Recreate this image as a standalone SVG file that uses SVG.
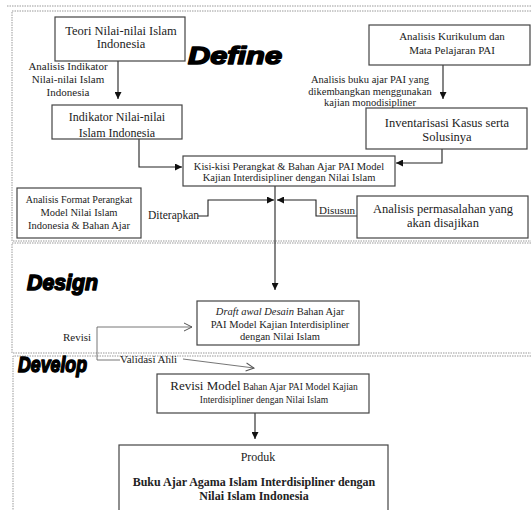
<svg xmlns="http://www.w3.org/2000/svg" width="531" height="510" viewBox="0 0 531 510">
<style>
.t{font-family:"Liberation Serif","Times New Roman",serif;fill:#222;}
.box{fill:#fff;stroke:#444;stroke-width:1.2;}
.sec{fill:none;stroke:#999;stroke-width:1;stroke-dasharray:1.5,1;}
.con{fill:none;stroke:#222;stroke-width:1.1;}
.rev{fill:none;stroke:#666;stroke-width:0.9;}
.h{font-family:"Liberation Sans",Arial,sans-serif;font-weight:bold;font-style:italic;fill:#000;stroke:#000;stroke-width:1.5;stroke-linejoin:round;}
</style>
<defs>
<marker id="fa" markerUnits="userSpaceOnUse" markerWidth="7" markerHeight="7" refX="7" refY="3.5" orient="auto"><path d="M0,0 L7,3.5 L0,7 z" fill="#111"/></marker>
<marker id="oa" markerUnits="userSpaceOnUse" markerWidth="10" markerHeight="10" refX="9" refY="5" orient="auto"><path d="M1,1 L9,5 L1,9" fill="none" stroke="#555" stroke-width="1"/></marker>
</defs>
<rect width="531" height="510" fill="#fff"/>
<g id="sections">
<path class="sec" d="M7,6 H531"/>
<path class="sec" d="M531,11 H12 V241 H531"/>
<path class="sec" d="M531,243 H12 V353 H531"/>
<path class="sec" d="M531,356 H13 V510"/>
<text class="h" x="188" y="64" font-size="24" textLength="94" lengthAdjust="spacingAndGlyphs">Define</text>
<text class="h" x="27" y="290" font-size="22" textLength="71" lengthAdjust="spacingAndGlyphs">Design</text>
<text class="h" x="18" y="372" font-size="22" textLength="69" lengthAdjust="spacingAndGlyphs">Develop</text>
</g>
<g id="connectors">
<path class="con" d="M118,61 V99" marker-end="url(#fa)"/>
<path class="con" d="M443,65 V99" marker-end="url(#fa)"/>
<path class="con" d="M139,139 V167 H182" marker-end="url(#fa)"/>
<path class="con" d="M487,146 H442 V163 H396" marker-end="url(#fa)"/>
<path class="con" d="M198,216 H208 V200 H274" marker-end="url(#fa)"/>
<path class="con" d="M357,216 H316 V200 H277" marker-end="url(#fa)"/>
<path class="con" d="M275,186 V290" marker-end="url(#fa)"/>
<path class="con" d="M255,413 V439" marker-end="url(#fa)"/>
<path class="rev" d="M97,360 V327 H192" marker-end="url(#oa)"/>
<path class="rev" d="M97,360 H120"/>
<path class="rev" d="M183,359 L254,368" marker-end="url(#oa)"/>
<text class="t" x="68" y="70" font-size="11" text-anchor="middle">Analisis Indikator</text>
<text class="t" x="68" y="83" font-size="11" text-anchor="middle">Nilai-nilai Islam</text>
<text class="t" x="68" y="96" font-size="11" text-anchor="middle">Indonesia</text>
<text class="t" x="370" y="83" font-size="10.5" text-anchor="middle">Analisis buku ajar PAI yang</text>
<text class="t" x="370" y="95" font-size="10.5" text-anchor="middle">dikembangkan menggunakan</text>
<text class="t" x="370" y="106" font-size="10.5" text-anchor="middle">kajian monodisipliner</text>
<text class="t" x="148" y="219" font-size="11.5">Diterapkan</text>
<text class="t" x="319" y="214" font-size="11">Disusun</text>
<text class="t" x="63" y="341" font-size="11">Revisi</text>
<text class="t" x="120" y="363" font-size="11">Validasi Ahli</text>
</g>
<g id="teori">
<rect class="box" x="55" y="17" width="130" height="44"/>
<text class="t" x="121" y="35" font-size="12.5" text-anchor="middle">Teori Nilai-nilai Islam</text>
<text class="t" x="121" y="48" font-size="12.5" text-anchor="middle">Indonesia</text>
</g>
<g id="kurikulum">
<rect class="box" x="369" y="25" width="161" height="40"/>
<text class="t" x="452" y="40" font-size="11" text-anchor="middle">Analisis Kurikulum dan</text>
<text class="t" x="452" y="54" font-size="11" text-anchor="middle">Mata Pelajaran PAI</text>
</g>
<g id="indikator">
<rect class="box" x="52" y="105" width="130" height="34"/>
<text class="t" x="117" y="121" font-size="12" text-anchor="middle">Indikator Nilai-nilai</text>
<text class="t" x="117" y="137" font-size="12" text-anchor="middle">Islam Indonesia</text>
</g>
<g id="inventarisasi">
<rect class="box" x="366" y="108" width="161" height="41"/>
<text class="t" x="447" y="127" font-size="12.5" text-anchor="middle">Inventarisasi Kasus serta</text>
<text class="t" x="447" y="141" font-size="12.5" text-anchor="middle">Solusinya</text>
</g>
<g id="kisi">
<rect class="box" x="183" y="156" width="212" height="30"/>
<text class="t" x="289" y="170" font-size="10.5" text-anchor="middle">Kisi-kisi Perangkat &amp; Bahan Ajar PAI Model</text>
<text class="t" x="289" y="181" font-size="10.5" text-anchor="middle">Kajian Interdisipliner dengan Nilai Islam</text>
</g>
<g id="format">
<rect class="box" x="17" y="188" width="124" height="50"/>
<text class="t" x="79" y="203" font-size="10" text-anchor="middle">Analisis Format Perangkat</text>
<text class="t" x="79" y="216" font-size="10.5" text-anchor="middle">Model Nilai Islam</text>
<text class="t" x="79" y="229" font-size="10.5" text-anchor="middle">Indonesia &amp; Bahan Ajar</text>
</g>
<g id="permasalahan">
<rect class="box" x="357" y="196" width="171" height="42"/>
<text class="t" x="443" y="213" font-size="12.5" text-anchor="middle">Analisis permasalahan yang</text>
<text class="t" x="443" y="227" font-size="12.5" text-anchor="middle">akan disajikan</text>
</g>
<g id="draft">
<rect class="box" x="197" y="301" width="162" height="44"/>
<text class="t" x="280" y="315" font-size="10.5" text-anchor="middle"><tspan font-style="italic">Draft awal Desain</tspan> Bahan Ajar</text>
<text class="t" x="280" y="328" font-size="10.5" text-anchor="middle">PAI Model Kajian Interdisipliner</text>
<text class="t" x="280" y="340" font-size="10.5" text-anchor="middle">dengan Nilai Islam</text>
</g>
<g id="revisimodel">
<rect class="box" x="157" y="374" width="212" height="39"/>
<text class="t" x="264" y="390" text-anchor="middle"><tspan font-size="13">Revisi Model</tspan><tspan font-size="9.5"> Bahan Ajar PAI Model Kajian</tspan></text>
<text class="t" x="264" y="403" font-size="9.5" text-anchor="middle">Interdisipliner dengan Nilai Islam</text>
</g>
<g id="produk">
<rect class="box" x="119" y="445" width="269" height="75"/>
<text class="t" x="258" y="461" font-size="12" text-anchor="middle">Produk</text>
<text class="t" x="254" y="486" font-size="12" font-weight="bold" text-anchor="middle">Buku Ajar Agama Islam Interdisipliner dengan</text>
<text class="t" x="254" y="500" font-size="12" font-weight="bold" text-anchor="middle">Nilai Islam Indonesia</text>
</g>
</svg>
